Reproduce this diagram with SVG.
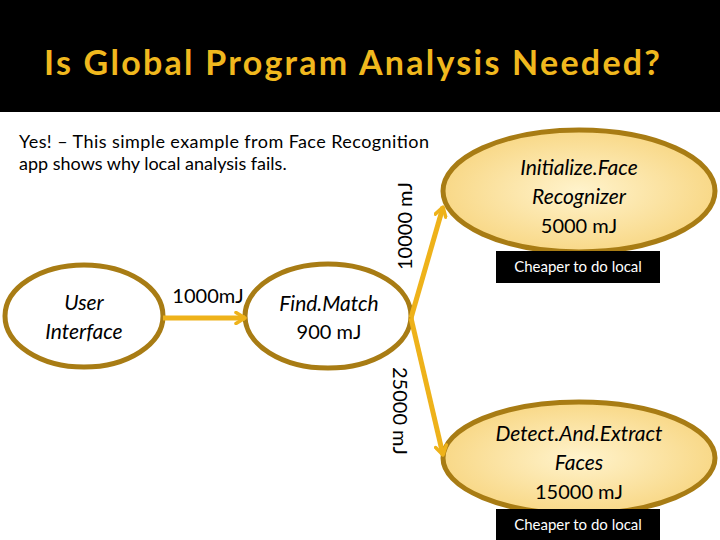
<svg xmlns="http://www.w3.org/2000/svg" width="720" height="540" viewBox="0 0 720 540">
<style>
text{font-family:"Lato","Liberation Sans",sans-serif;fill:#000}
.n{font-size:21px;font-style:italic;text-anchor:middle}
.v{font-size:20px;text-anchor:middle}
.e{stroke:#A87C14;stroke-width:5}
.c{stroke:#EEB21A;stroke-width:5;fill:none}
.t{fill:#fff;font-size:15px;text-anchor:middle}
</style>
<defs>
<radialGradient id="g" cx="0.5" cy="0.5" r="0.6"><stop offset="0" stop-color="#FFF3CC"/><stop offset="1" stop-color="#F7D37A"/></radialGradient>
<marker id="a" markerWidth="14" markerHeight="14" refX="11" refY="7" orient="auto" markerUnits="userSpaceOnUse" viewBox="0 0 14 14"><path d="M2,1.5 L11,7 L2,12.5" fill="none" stroke="#EEB21A" stroke-width="3.5" stroke-linecap="round" stroke-linejoin="round"/></marker>
</defs>
<rect width="720" height="540" fill="#fff"/>
<rect width="720" height="112" fill="#000"/>
<text x="44" y="75" textLength="616" style="font-size:34px;font-weight:bold;fill:#F0B81E">Is Global Program Analysis Needed?</text>
<text x="19" y="148" textLength="410" style="font-size:18px">Yes! – This simple example from Face Recognition</text>
<text x="19" y="170" style="font-size:18px">app shows why local analysis fails.</text>
<g id="ui"><ellipse class="e" cx="84" cy="316" rx="79" ry="51" fill="#fff"/><text class="n" x="84" y="310">User</text><text class="n" x="84" y="339">Interface</text></g>
<g id="findmatch"><ellipse class="e" cx="328" cy="316" rx="83" ry="52" fill="#fff"/><text class="n" x="329" y="311">Find.Match</text><text class="v" x="329" y="339">900 mJ</text></g>
<g id="init"><ellipse class="e" cx="579" cy="191" rx="136" ry="61" fill="url(#g)"/><text class="n" x="579" y="175">Initialize.Face</text><text class="n" x="579" y="204">Recognizer</text><text class="v" x="579" y="233">5000 mJ</text></g>
<g id="detect"><ellipse class="e" cx="579" cy="458" rx="136" ry="56" fill="url(#g)"/><text class="n" x="579" y="441">Detect.And.Extract</text><text class="n" x="579" y="470">Faces</text><text class="v" x="579" y="499">15000 mJ</text></g>
<g id="note1"><rect x="496" y="251" width="164" height="32" fill="#000"/><text class="t" x="578" y="272">Cheaper to do local</text></g>
<g id="note2"><rect x="496" y="509" width="164" height="31" fill="#000"/><text class="t" x="578" y="530">Cheaper to do local</text></g>
<g id="connectors">
<line class="c" x1="163" y1="318" x2="245" y2="318" marker-end="url(#a)"/>
<line class="c" x1="411" y1="318" x2="443" y2="207" marker-end="url(#a)"/>
<line class="c" x1="411" y1="318" x2="443" y2="455" marker-end="url(#a)"/>
<text class="v" transform="translate(412,226) rotate(-90)">10000 mJ</text>
<text class="v" transform="translate(393,411) rotate(90)">25000 mJ</text>
<text x="208" y="303" class="v">1000mJ</text>
</g>
</svg>
